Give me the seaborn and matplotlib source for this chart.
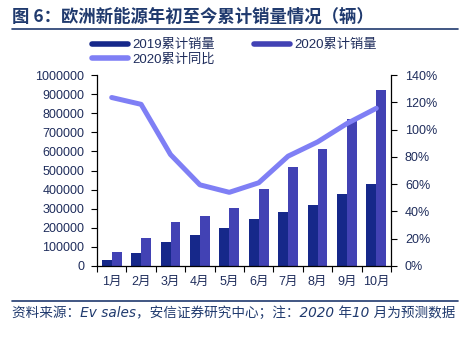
import numpy as np
import pandas as pd
import seaborn as sns
import matplotlib
matplotlib.use("Agg")
import matplotlib.pyplot as plt
from matplotlib.lines import Line2D
from matplotlib.ticker import FuncFormatter, MultipleLocator, FixedLocator

months = ["1月", "2月", "3月", "4月", "5月", "6月", "7月", "8月", "9月", "10月"]
sales_2019 = [34000, 66000, 124000, 161000, 198000, 246000, 284000, 321000, 379000, 428000]
sales_2020 = [71000, 145000, 230000, 262000, 305000, 401000, 517000, 612000, 770000, 923000]
yoy_2020 = [123.5, 118.5, 81.7, 59.5, 54.0, 61.0, 80.5, 90.9, 104.4, 115.6]
series_names = ["2019累计销量", "2020累计销量", "2020累计同比"]

title = "图 6：欧洲新能源年初至今累计销量情况（辆）"
footer = "资料来源：Ev sales，安信证券研究中心；注：2020 年10 月为预测数据"

c2019 = "#16288a"
c2020 = "#4242b4"
cline = "#7f7ff5"
navy = "#1f2d5c"
title_c = "#203a6e"

sns.set_theme(style="white")
plt.rcParams["font.family"] = ["Liberation Sans", "Noto Sans CJK SC", "DejaVu Sans"]

df = pd.DataFrame({
    "month": months * 2,
    "value": sales_2019 + sales_2020,
    "series": [series_names[0]] * len(months) + [series_names[1]] * len(months),
})

fig = plt.figure(figsize=(4.74, 3.41), dpi=100)
ax = fig.add_axes([97 / 474, 1 - 266 / 341, (391 - 97) / 474, (266 - 75) / 341])

sns.barplot(data=df, x="month", y="value", hue="series", order=months,
            hue_order=series_names[:2], palette=[c2019, c2020], width=0.68,
            saturation=1, ax=ax, legend=False, linewidth=0)

ax2 = ax.twinx()
sns.lineplot(x=np.arange(len(months)), y=yoy_2020, ax=ax2, color=cline,
             linewidth=3.6, legend=False)

ax.set_xlim(-0.5, len(months) - 0.5)
ax.set_ylim(0, 1000000)
ax2.set_ylim(0, 140)
ax.yaxis.set_major_locator(MultipleLocator(100000))
ax2.yaxis.set_major_locator(MultipleLocator(20))
ax2.yaxis.set_major_formatter(FuncFormatter(lambda v, p: f"{v:.0f}%"))
ax.yaxis.set_major_formatter(FuncFormatter(lambda v, p: f"{v:.0f}"))

ax.set_xlabel("")
ax.set_ylabel("")
ax2.set_ylabel("")
ax.set_xticks(np.arange(len(months)))
ax.set_xticklabels(months)
ax.xaxis.set_minor_locator(FixedLocator(np.arange(-0.5, len(months), 1.0)))
ax.tick_params(axis="x", which="major", length=0, pad=7.5, labelsize=9, labelcolor=navy)
ax.tick_params(axis="x", which="minor", length=4, width=0.8, color="black", direction="out", bottom=True)
ax.tick_params(axis="y", which="major", length=4, width=0.8, color="black", direction="out",
               left=True, pad=5, labelsize=9, labelcolor=navy)
ax2.tick_params(axis="y", which="major", length=4, width=0.8, color="black", direction="out",
                right=True, pad=6, labelsize=9, labelcolor=navy)

for a in (ax, ax2):
    for s in a.spines.values():
        s.set_visible(False)
    a.grid(False)
ax.spines["left"].set_visible(True)
ax.spines["bottom"].set_visible(True)
ax2.spines["right"].set_visible(True)
for s in (ax.spines["left"], ax.spines["bottom"], ax2.spines["right"]):
    s.set_color("black")
    s.set_linewidth(0.9)

handles = [Line2D([0], [0], color=c2019, lw=4),
           Line2D([0], [0], color=cline, lw=4),
           Line2D([0], [0], color=c2020, lw=4)]
labels = [series_names[0], series_names[2], series_names[1]]
fig.legend(handles, labels, ncol=2, loc="upper left", bbox_to_anchor=(92 / 474, 1 - 39 / 341),
           frameon=False, fontsize=9.5, handlelength=2.7, handletextpad=0.35,
           columnspacing=3.0, labelspacing=0.15, borderpad=0, borderaxespad=0,
           labelcolor=navy)

fig.text(12 / 474, 1 - 17 / 341, title, fontsize=12.5, fontweight="bold", color=title_c,
         va="center", ha="left", family=["Noto Sans CJK SC", "DejaVu Sans"])
fig.add_artist(Line2D([12 / 474, 458 / 474], [1 - 29 / 341, 1 - 29 / 341],
                      color=title_c, lw=1.2, transform=fig.transFigure))
fig.add_artist(Line2D([12 / 474, 458 / 474], [1 - 301 / 341, 1 - 301 / 341],
                      color=title_c, lw=1.2, transform=fig.transFigure))
fig.text(12 / 474, 1 - 313 / 341, footer, fontsize=9.8, style="italic", color=title_c,
         va="center", ha="left", family=["DejaVu Sans", "Noto Sans CJK SC"])

fig.savefig("out.png", dpi=100, facecolor="white")
